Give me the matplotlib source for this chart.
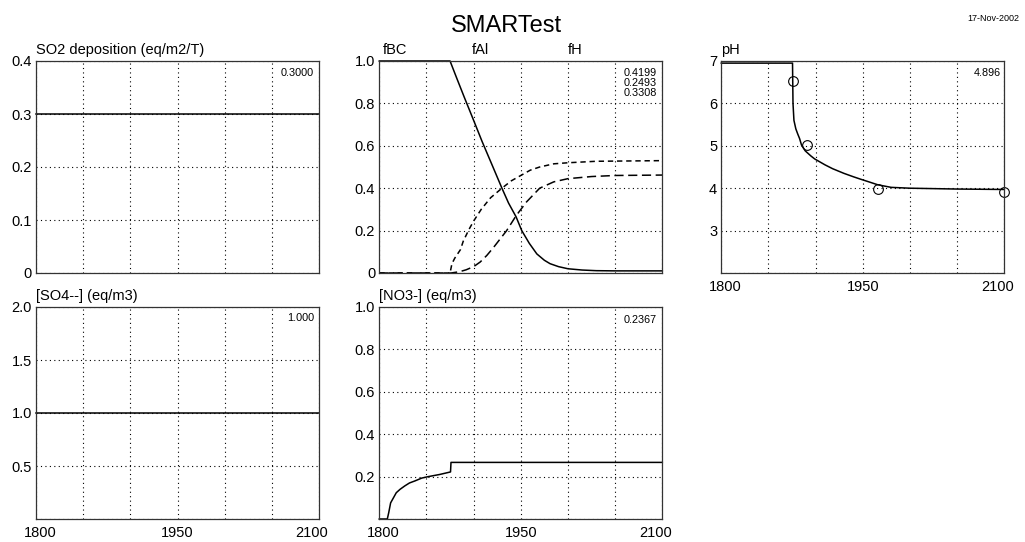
import matplotlib
matplotlib.use("Agg")
import matplotlib.pyplot as plt
from matplotlib.transforms import ScaledTranslation

plt.rcParams['font.family'] = ['Liberation Sans', 'DejaVu Sans']

# --- data ---
so2_years = [1800, 2100]
so2_dep = [0.3, 0.3]

so4_years = [1800, 2100]
so4_conc = [1.0, 1.0]

fbc_years = [1800, 1875, 1882, 1890, 1900, 1909, 1920, 1930, 1937, 1945, 1951, 1959, 1967,
             1975, 1981, 1990, 2000, 2015, 2030, 2050, 2100]
fbc = [1.0, 1.0, 0.92, 0.83, 0.72, 0.62, 0.505, 0.4, 0.33, 0.265, 0.2, 0.14, 0.09,
       0.06, 0.044, 0.03, 0.02, 0.014, 0.011, 0.01, 0.01]

fal_years = [1800, 1875, 1877, 1880, 1886, 1889, 1895, 1900, 1908, 1918, 1930, 1940,
             1950, 1960, 1970, 1985, 2000, 2030, 2100]
fal = [0.0, 0.0, 0.044, 0.07, 0.11, 0.15, 0.205, 0.245, 0.3, 0.355, 0.4, 0.435,
       0.46, 0.485, 0.5, 0.515, 0.52, 0.527, 0.53]

fh_years = [1800, 1876, 1885, 1892, 1900, 1907, 1914, 1921, 1928, 1935, 1945, 1956,
            1970, 1985, 2000, 2025, 2050, 2100]
fh = [0.0, 0.0, 0.006, 0.015, 0.03, 0.052, 0.083, 0.12, 0.16, 0.2, 0.27, 0.335,
      0.4, 0.43, 0.445, 0.455, 0.46, 0.462]

ph_years = [1800, 1875.5, 1876, 1877, 1879, 1881, 1883, 1885, 1889, 1895, 1899, 1910,
            1918, 1930, 1940, 1948, 1955, 1966, 1980, 2000, 2050, 2100]
ph = [6.95, 6.95, 6.0, 5.6, 5.4, 5.28, 5.17, 5.02, 4.88, 4.76, 4.69, 4.55,
      4.46, 4.35, 4.27, 4.21, 4.16, 4.08, 4.02, 4.0, 3.98, 3.97]

ph_obs_years = [1875.5, 1891, 1966.5, 2100]
ph_obs = [6.53, 5.02, 3.99, 3.91]

no3_years = [1800, 1808.5, 1810, 1812, 1815, 1818, 1822, 1827, 1832, 1838, 1845,
             1852, 1864, 1875.5, 1876, 2100]
no3 = [0.0, 0.0, 0.03, 0.076, 0.1, 0.124, 0.14, 0.156, 0.17, 0.18, 0.193,
       0.2, 0.21, 0.222, 0.267, 0.267]

year_ticks = [1800, 1850, 1900, 1950, 2000, 2050, 2100]
year_labels = ['1800', '', '', '1950', '', '', '2100']

GRID_STYLE = (0, (1, 3))
FRAME_COLOR = '#333333'


def setup_axes(ax, ylim, yticks, ylabels, show_x=True):
    ax.set_xlim(1800, 2100)
    ax.set_ylim(*ylim)
    ax.set_xticks(year_ticks)
    ax.set_xticklabels(year_labels if show_x else [''] * len(year_ticks))
    ax.set_yticks(yticks)
    ax.set_yticklabels(ylabels)
    ax.tick_params(length=0, labelsize=10.5, pad=3)
    ax.tick_params(axis='x', pad=5)
    ax.grid(True, color='k', linestyle=GRID_STYLE, linewidth=0.8)
    for s in ax.spines.values():
        s.set_color(FRAME_COLOR)
        s.set_linewidth(0.9)
    if show_x:
        # end labels sit a little inside the frame, as in the original
        labels = ax.get_xticklabels()
        labels[0].set_transform(labels[0].get_transform() +
                                ScaledTranslation(4 / 100, 0, fig.dpi_scale_trans))
        labels[-1].set_transform(labels[-1].get_transform() +
                                 ScaledTranslation(-7 / 100, 0, fig.dpi_scale_trans))


def panel_title(ax, text, x=0.0):
    ax.text(x, 1.033, text, transform=ax.transAxes, ha='left', va='baseline', fontsize=10.5)


def corner_value(ax, text, x, y):
    ax.text(x, y, text, transform=ax.transAxes, ha='right', va='top', fontsize=7.8)


fig = plt.figure(figsize=(10.25, 5.42), dpi=100)

w = 283 / 1025
h = 212 / 542
top_b = (542 - 273) / 542
bot_b = (542 - 519) / 542

ax1 = fig.add_axes([36 / 1025, top_b, w, h])
ax2 = fig.add_axes([379.3 / 1025, top_b, w, h])
ax3 = fig.add_axes([721.3 / 1025, top_b, w, h])
ax4 = fig.add_axes([36 / 1025, bot_b, w, h])
ax5 = fig.add_axes([379.3 / 1025, bot_b, w, h])

# SO2 deposition
setup_axes(ax1, (0, 0.4), [0, 0.1, 0.2, 0.3, 0.4], ['0', '0.1', '0.2', '0.3', '0.4'], show_x=False)
ax1.plot(so2_years, so2_dep, color='k', lw=1.1, clip_on=False)
panel_title(ax1, 'SO2 deposition (eq/m2/T)')
corner_value(ax1, '0.3000', 0.982, 0.967)

# base cation / Al / H fractions
setup_axes(ax2, (0, 1.0), [0, 0.2, 0.4, 0.6, 0.8, 1.0],
           ['0', '0.2', '0.4', '0.6', '0.8', '1.0'], show_x=False)
ax2.plot(fbc_years, fbc, color='k', lw=1.1, clip_on=False)
ax2.plot(fal_years, fal, color='k', lw=1.1, linestyle=(0, (3.5, 2.5)), clip_on=False)
ax2.plot(fh_years, fh, color='k', lw=1.1, linestyle=(0, (6, 3)), clip_on=False)
panel_title(ax2, 'fBC', x=0.013)
panel_title(ax2, 'fAl', x=0.328)
panel_title(ax2, 'fH', x=0.667)
corner_value(ax2, '0.4199', 0.982, 0.966)
corner_value(ax2, '0.2493', 0.982, 0.918)
corner_value(ax2, '0.3308', 0.982, 0.871)

# pH
setup_axes(ax3, (2, 7), [2, 3, 4, 5, 6, 7], ['', '3', '4', '5', '6', '7'])
ax3.plot(ph_years, ph, color='k', lw=1.1, clip_on=False)
ax3.plot(ph_obs_years, ph_obs, 'o', ms=7, mfc='none', mec='k', mew=0.8, clip_on=False)
panel_title(ax3, 'pH')
corner_value(ax3, '4.896', 0.987, 0.966)

# SO4
setup_axes(ax4, (0, 2.0), [0, 0.5, 1.0, 1.5, 2.0], ['', '0.5', '1.0', '1.5', '2.0'])
ax4.plot(so4_years, so4_conc, color='k', lw=1.1, clip_on=False)
panel_title(ax4, '[SO4--] (eq/m3)')
corner_value(ax4, '1.000', 0.982, 0.972)

# NO3
setup_axes(ax5, (0, 1.0), [0, 0.2, 0.4, 0.6, 0.8, 1.0],
           ['', '0.2', '0.4', '0.6', '0.8', '1.0'])
ax5.plot(no3_years, no3, color='k', lw=1.1, clip_on=False)
panel_title(ax5, '[NO3-] (eq/m3)')
corner_value(ax5, '0.2367', 0.982, 0.962)

fig.text(0.494, 0.9415, 'SMARTest', ha='center', va='baseline', fontsize=17)
fig.text(0.9945, 0.962, '17-Nov-2002', ha='right', va='baseline', fontsize=6.5)

fig.savefig('out.png', dpi=100)
